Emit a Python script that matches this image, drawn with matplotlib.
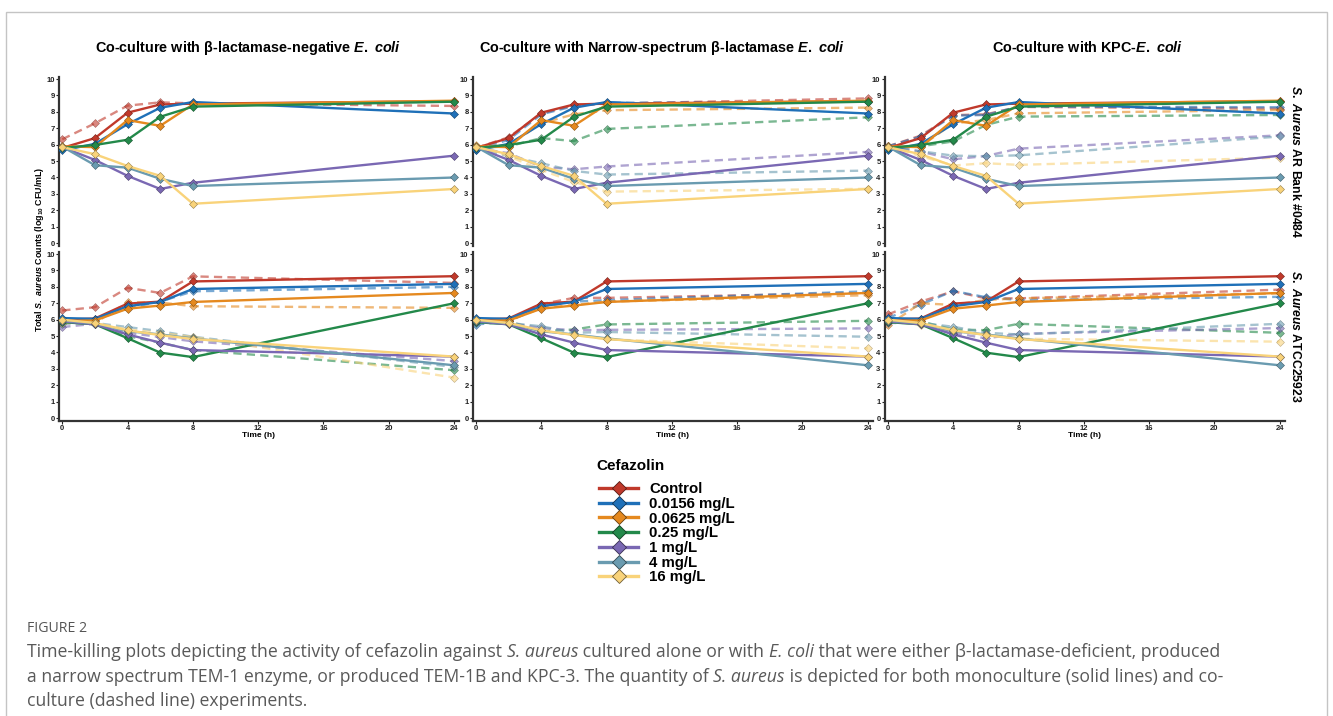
import matplotlib
matplotlib.use("Agg")
import matplotlib.pyplot as plt
from matplotlib.lines import Line2D
from matplotlib.patches import Rectangle
from matplotlib.font_manager import FontProperties
import matplotlib.colors as mcolors

plt.rcParams['font.family'] = ['Liberation Sans', 'DejaVu Sans']
plt.rcParams['mathtext.fontset'] = 'custom'
plt.rcParams['mathtext.rm'] = 'Liberation Sans:bold'
plt.rcParams['mathtext.it'] = 'Liberation Sans:italic:bold'
plt.rcParams['mathtext.bf'] = 'Liberation Sans:bold'

times = [0, 2, 4, 6, 8, 24]
doses = ["Control", "0.0156 mg/L", "0.0625 mg/L", "0.25 mg/L", "1 mg/L", "4 mg/L", "16 mg/L"]
colors = ["#C0392B", "#1F70B8", "#E5891F", "#23894A", "#7A68B3", "#6A9BB0", "#F9D37A"]

col_titles = [r"Co-culture with β-lactamase-negative $\mathit{E.\ coli}$",
              r"Co-culture with Narrow-spectrum β-lactamase $\mathit{E.\ coli}$",
              r"Co-culture with KPC-$\mathit{E.\ coli}$"]
row_labels = [r"$\mathit{S.\ Aureus}$ AR Bank #0484", r"$\mathit{S.\ Aureus}$ ATCC25923"]

# monoculture (solid) - same in every column of a row
mono_ar0484 = [
    [5.8, 6.4, 7.95, 8.45, 8.5, 8.65],
    [5.65, 6.05, 7.25, 8.25, 8.6, 7.9],
    [5.9, 5.85, 7.5, 7.15, 8.45, 8.68],
    [5.8, 5.98, 6.3, 7.7, 8.32, 8.62],
    [5.85, 5.07, 4.1, 3.3, 3.68, 5.33],
    [5.88, 4.75, 4.6, 3.92, 3.48, 4.0],
    [5.85, 5.42, 4.7, 4.1, 2.4, 3.3],
]
mono_atcc = [
    [6.0, 6.07, 6.98, 7.1, 8.33, 8.65],
    [6.1, 6.05, 6.82, 7.08, 7.87, 8.18],
    [5.92, 5.95, 6.67, 6.86, 7.08, 7.63],
    [5.85, 5.72, 4.87, 3.99, 3.72, 7.0],
    [5.9, 5.72, 5.1, 4.6, 4.15, 3.75],
    [5.95, 5.78, 5.3, 5.1, 4.86, 3.22],
    [6.0, 5.8, 5.35, 5.06, 4.82, 3.75],
]

# co-culture (dashed)
co_ar0484_neg = [
    [6.33, 7.3, 8.38, 8.58, 8.52, 8.36],
    None, None, None, None, None, None,
]
co_ar0484_narrow = [
    [5.8, 6.45, 7.9, 8.4, 8.5, 8.82],
    [5.7, 6.3, 7.85, 8.35, 8.55, 8.62],
    [5.9, 5.95, 7.3, 7.85, 8.1, 8.26],
    [5.8, 5.9, 6.4, 6.22, 6.96, 7.67],
    [5.8, 5.48, 4.65, 4.5, 4.67, 5.56],
    [5.8, 5.3, 4.87, 4.4, 4.18, 4.42],
    [6.0, 5.3, 4.46, 3.73, 3.14, 3.31],
]
co_ar0484_kpc = [
    [5.9, 6.55, 7.8, 7.85, 8.3, 8.2],
    [5.9, 6.5, 7.77, 7.81, 8.32, 8.28],
    [5.8, 5.9, 7.3, 7.5, 7.91, 8.11],
    [5.8, 5.9, 6.2, 7.2, 7.71, 7.81],
    [5.9, 5.58, 5.11, 5.31, 5.76, 6.57],
    [5.9, 5.6, 5.33, 5.3, 5.35, 6.5],
    [5.9, 5.3, 4.73, 4.87, 4.77, 5.21],
]
co_atcc_neg = [
    [6.56, 6.76, 7.94, 7.63, 8.64, 8.24],
    [5.9, 6.0, 6.7, 7.1, 7.73, 8.0],
    [5.8, 5.8, 7.06, 7.05, 6.82, 6.72],
    [5.85, 5.75, 5.0, 4.6, 4.15, 2.92],
    [5.55, 5.75, 5.2, 4.94, 4.68, 3.48],
    [5.75, 5.8, 5.55, 5.3, 4.96, 3.12],
    [5.8, 5.8, 5.4, 5.2, 4.95, 2.47],
]
co_atcc_narrow = [
    [6.0, 6.0, 6.95, 7.33, 7.33, 7.63],
    [5.7, 5.9, 6.8, 7.1, 7.19, 7.73],
    [5.85, 5.95, 6.7, 6.9, 7.1, 7.49],
    [5.9, 5.9, 5.3, 5.4, 5.71, 5.93],
    [5.9, 5.8, 5.5, 5.35, 5.38, 5.47],
    [5.8, 5.8, 5.6, 5.2, 5.25, 4.96],
    [6.0, 5.8, 5.3, 5.1, 4.8, 4.25],
]
co_atcc_kpc = [
    [6.32, 7.1, 7.73, 7.3, 7.3, 7.83],
    [6.1, 6.92, 7.75, 7.37, 7.2, 7.39],
    [5.65, 7.0, 6.9, 7.2, 7.3, 7.6],
    [5.9, 5.9, 5.4, 5.36, 5.75, 5.2],
    [5.8, 5.8, 5.2, 4.86, 5.14, 5.49],
    [5.9, 5.8, 5.57, 5.2, 5.1, 5.75],
    [5.9, 5.7, 5.3, 5.1, 4.84, 4.66],
]

mono_rows = [mono_ar0484, mono_atcc]
co_grid = [[co_ar0484_neg, co_ar0484_narrow, co_ar0484_kpc],
           [co_atcc_neg, co_atcc_narrow, co_atcc_kpc]]


def darker(c, f=0.6):
    r, g, b = mcolors.to_rgb(c)
    return (r * f, g * f, b * f)


W, H = 1333, 716
fig = plt.figure(figsize=(W / 100, H / 100), dpi=100)

# figure frame
fig.patches.append(Rectangle((6 / W, -0.05), 1321 / W, 1.05 - 12 / H, transform=fig.transFigure,
                             fill=False, edgecolor="#c4c4c4", linewidth=1.0))

lefts = [59, 472.7, 884.7]
tops = [77.4, 252.4]
aw, ah = 400, 168.2

for r in range(2):
    for c in range(3):
        ax = fig.add_axes([lefts[c] / W, 1 - (tops[r] + ah) / H, aw / W, ah / H])
        for i in range(7):
            co = co_grid[r][c][i]
            if co is not None:
                ax.plot(times, co, color=colors[i], lw=1.7, alpha=0.6, dashes=(3.5, 2.2),
                        marker="D", ms=3.6, mec=darker(colors[i]), mew=0.4, zorder=2)
        for i in range(7):
            ax.plot(times, mono_rows[r][i], color=colors[i], lw=1.7,
                    marker="D", ms=3.8, mec=darker(colors[i]), mew=0.4, zorder=3)
        ax.set_xlim(-0.2, 24.3)
        ax.set_ylim(-0.15, 10.1)
        ax.set_yticks(range(0, 11))
        ax.set_xticks([0, 4, 8, 12, 16, 20, 24])
        for s in ["top", "right"]:
            ax.spines[s].set_visible(False)
        ax.spines["left"].set_linewidth(1.6)
        ax.spines["left"].set_color("#333333")
        ax.tick_params(axis="both", length=2, width=0.8, pad=1, labelsize=5.5, colors="#222222")
        for lab in ax.get_yticklabels():
            lab.set_fontweight("bold")
        if r == 0:
            ax.spines["bottom"].set_visible(False)
            ax.tick_params(axis="x", bottom=False, labelbottom=False)
        else:
            ax.spines["bottom"].set_linewidth(1.6)
            ax.spines["bottom"].set_color("#333333")
            for lab in ax.get_xticklabels():
                lab.set_fontweight("bold")
            ax.set_xlabel("Time (h)", fontsize=6, fontweight="bold", labelpad=0)
        if c == 2:
            ax.text(1.01, 0.5, row_labels[r], transform=ax.transAxes, rotation=-90,
                    ha="left", va="center", fontsize=8.8, fontweight="bold")

title_x = [248, 662, 1088]
for c in range(3):
    fig.text(title_x[c] / W, 1 - 48 / H, col_titles[c], ha="center", va="center",
             fontsize=10.4, fontweight="bold")

fig.text(40 / W, 1 - 249 / H, r"Total $\mathit{S.\ aureus}$ Counts (log$_{10}$ CFU/mL)",
         rotation=90, ha="center", va="center", fontsize=6.4, fontweight="bold")

# legend
fig.text(596 / W, 1 - 466 / H, "Cefazolin", ha="left", va="center",
         fontsize=11, fontweight="bold")
handles = [Line2D([0], [0], color=colors[i], lw=2.4, marker="D", ms=7,
                  mfc=colors[i], mec=darker(colors[i], 0.45), mew=0.6) for i in range(7)]
leg = fig.legend(handles, doses, loc="upper left", bbox_to_anchor=(599 / W, 1 - 482 / H),
                 frameon=False, prop={"size": 10.8, "weight": "bold"},
                 handlelength=2.6, handletextpad=0.75, labelspacing=0.05,
                 borderpad=0, borderaxespad=0)

# caption
cap_color = "#595959"
cap_font = "Open Sans"
fig.text(27 / W, 1 - 628 / H, "FIGURE 2", fontsize=10.2, color="#555555",
         family=cap_font, va="center", ha="left")

renderer = fig.canvas.get_renderer()


def run_width(s, prop):
    w1, _, _ = renderer.get_text_width_height_descent(s + "|", prop, ismath=False)
    w2, _, _ = renderer.get_text_width_height_descent("|", prop, ismath=False)
    return w1 - w2


cap_lines = [
    [("Time-killing plots depicting the activity of cefazolin against ", "normal"),
     ("S. aureus", "italic"),
     (" cultured alone or with ", "normal"),
     ("E. coli", "italic"),
     (" that were either β-lactamase-deficient, produced", "normal")],
    [("a narrow spectrum TEM-1 enzyme, or produced TEM-1B and KPC-3. The quantity of ", "normal"),
     ("S. aureus", "italic"),
     (" is depicted for both monoculture (solid lines) and co-", "normal")],
    [("culture (dashed line) experiments.", "normal")],
]
cap_y = [652, 677, 701]
cap_size = 12.7
for line, yy in zip(cap_lines, cap_y):
    x = 27.0
    for s, st in line:
        prop = FontProperties(family=cap_font, style=st, size=cap_size)
        fig.text(x / W, 1 - yy / H, s, fontproperties=prop, color=cap_color,
                 va="center", ha="left")
        x += run_width(s, prop) * 100 / fig.dpi

fig.savefig("out.png", dpi=100)
